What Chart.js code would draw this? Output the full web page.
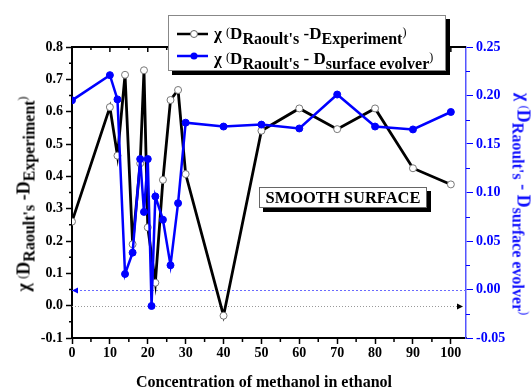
<!DOCTYPE html>
<html lang="en">
<head>
<meta charset="UTF-8">
<title>Raoult's deviation vs methanol concentration</title>
<script src="https://cdn.jsdelivr.net/npm/chart.js"></script>
<style>
    html, body { margin: 0; padding: 0; background: #fff; }
    #wrap {
        position: relative; width: 532px; height: 392px; overflow: hidden;
        font-family: 'Liberation Serif', 'Times New Roman', serif; font-weight: bold; color: #000;
    }
    #chart { position: absolute; left: 0; top: 0; }
    .title { position: absolute; white-space: nowrap; font-size: 18px; line-height: 22px; }
    .title sub { font-size: 16px; vertical-align: -5px; line-height: 0; }
    .legend sub { font-size: 16px; vertical-align: -5px; line-height: 0; }
    .par { font-size: 12px; font-weight: normal; vertical-align: 3px; }
    .legend {
        position: absolute; left: 168px; top: 15px; width: 276px; height: 54px;
        border: 1px solid #888; background: #fff; box-shadow: 4px 4px 0 #000;
    }
    .legend .row { position: absolute; left: 0; white-space: nowrap; font-size: 17px; line-height: 20px; }
    .legend svg { position: absolute; left: 8px; }
    .legend .txt { position: absolute; left: 45px; top: 0; }
    .note {
        position: absolute; left: 259px; top: 187px; width: 166px; height: 19px;
        border: 1px solid #666; background: #fff; box-shadow: 4px 4px 0 #000;
        font-size: 16.5px; line-height: 20px; text-align: center;
    }
</style>
</head>
<body>
<div id="wrap">
    <canvas id="chart" width="532" height="392"></canvas>

    <div class="title" id="yTitle" style="left:23px; top:194px; transform: translate(-50%,-50%) rotate(-90deg);">
        χ <span class="par">(</span>D<sub>Raoult's</sub> -D<sub>Experiment</sub><span class="par">)</span>
    </div>
    <div class="title" id="y2Title" style="left:524px; top:204px; color:#1010ff; transform: translate(-50%,-50%) rotate(90deg);">
        χ <span class="par">(</span>D<sub>Raoult's</sub> - D<sub>surface evolver</sub><span class="par">)</span>
    </div>
    <div class="title" id="xTitle" style="left:264px; top:382px; font-size:16px; transform: translate(-50%,-50%);">
        Concentration of methanol in ethanol
    </div>

    <div class="legend">
        <div class="row" style="top:6px; width:270px; height:20px;">
            <svg width="32" height="10" style="top:7px">
                <line x1="0" y1="5" x2="31" y2="5" stroke="#000" stroke-width="2.5"/>
                <circle cx="17" cy="5" r="3.5" fill="#fff" stroke="#666" stroke-width="1"/>
            </svg>
            <span class="txt">χ <span class="par">(</span>D<sub>Raoult's</sub> -D<sub>Experiment</sub><span class="par">)</span></span>
        </div>
        <div class="row" style="top:31px; width:270px; height:20px;">
            <svg width="32" height="10" style="top:4px">
                <line x1="0" y1="5" x2="31" y2="5" stroke="#0000ff" stroke-width="2.5"/>
                <circle cx="17" cy="5" r="3.5" fill="#0000ff"/>
            </svg>
            <span class="txt">χ <span class="par">(</span>D<sub>Raoult's</sub> - D<sub>surface evolver</sub><span class="par">)</span></span>
        </div>
    </div>

    <div class="note">SMOOTH SURFACE</div>
</div>

<script>
    // concentration of methanol (%) for each series
    const methanolExp = [0, 10, 12, 14, 16, 18, 19, 20, 22, 24, 26, 28, 30, 40, 50, 60, 70, 80, 90, 100];
    const chiExperiment = [0.26, 0.614, 0.464, 0.714, 0.19, 0.44, 0.728, 0.242, 0.071, 0.389, 0.636, 0.667, 0.407,
        -0.031, 0.541, 0.61, 0.546, 0.61, 0.425, 0.375];

    const methanolSurf = [0, 10, 12, 14, 16, 18, 19, 20, 21, 22, 24, 26, 28, 30, 40, 50, 60, 70, 80, 90, 100];
    const chiSurface = [0.195, 0.221, 0.196, 0.016, 0.038, 0.1345, 0.080, 0.1345, -0.017, 0.096, 0.072, 0.025, 0.089,
        0.172, 0.168, 0.170, 0.166, 0.201, 0.168, 0.165, 0.183];

    // tick labels
    const xTicks = [0, 10, 20, 30, 40, 50, 60, 70, 80, 90, 100];
    const xMinor = [5, 15, 25, 35, 45, 55, 65, 75, 85, 95];
    const yTicks = [-0.1, 0.0, 0.1, 0.2, 0.3, 0.4, 0.5, 0.6, 0.7, 0.8];
    const yMinor = [-0.05, 0.05, 0.15, 0.25, 0.35, 0.45, 0.55, 0.65, 0.75];
    const y2Ticks = [-0.05, 0.0, 0.05, 0.1, 0.15, 0.2, 0.25];
    const y2Minor = [-0.025, 0.025, 0.075, 0.125, 0.175, 0.225];

    const FONT = 'Liberation Serif';
    const BLUE = '#0000ff';

    // zero reference lines (Origin style), drawn under the data
    const zeroLines = {
        id: 'zeroLines',
        beforeDatasetsDraw(chart) {
            const { ctx, chartArea: a, scales } = chart;
            const y0 = Math.round(scales.y.getPixelForValue(0)) + 0.5;
            const y1 = Math.round(scales.y2.getPixelForValue(0)) + 0.5;
            ctx.save();
            ctx.lineWidth = 1;
            ctx.strokeStyle = '#999';
            ctx.setLineDash([1, 2]);
            ctx.beginPath(); ctx.moveTo(a.left, y0); ctx.lineTo(a.right - 8, y0); ctx.stroke();
            ctx.strokeStyle = '#6a6aff';
            ctx.setLineDash([2, 2]);
            ctx.beginPath(); ctx.moveTo(a.left, y1); ctx.lineTo(a.right, y1); ctx.stroke();
            ctx.setLineDash([]);
            ctx.fillStyle = '#000';
            ctx.beginPath();
            ctx.moveTo(a.right - 3, y0); ctx.lineTo(a.right - 9, y0 - 3); ctx.lineTo(a.right - 9, y0 + 3);
            ctx.fill();
            ctx.fillStyle = BLUE;
            ctx.beginPath();
            ctx.moveTo(a.left, y1); ctx.lineTo(a.left + 6, y1 - 3); ctx.lineTo(a.left + 6, y1 + 3);
            ctx.fill();
            ctx.restore();
        }
    };

    // top frame and minor ticks
    const frameTicks = {
        id: 'frameTicks',
        afterDraw(chart) {
            const { ctx, chartArea: a, scales } = chart;
            ctx.save();
            ctx.strokeStyle = '#000';
            ctx.lineWidth = 2;
            ctx.beginPath(); ctx.moveTo(a.left - 1, a.top); ctx.lineTo(a.right, a.top); ctx.stroke();
            ctx.lineWidth = 1.5;
            ctx.beginPath();
            xTicks.forEach(v => {
                const px = scales.x.getPixelForValue(v);
                ctx.moveTo(px, a.top); ctx.lineTo(px, a.top + 5);
            });
            xMinor.forEach(v => {
                const px = scales.x.getPixelForValue(v);
                ctx.moveTo(px, a.top); ctx.lineTo(px, a.top + 3);
                ctx.moveTo(px, a.bottom); ctx.lineTo(px, a.bottom + 4);
            });
            yMinor.forEach(v => {
                const py = scales.y.getPixelForValue(v);
                ctx.moveTo(a.left, py); ctx.lineTo(a.left - 3, py);
            });
            ctx.stroke();
            ctx.strokeStyle = BLUE;
            ctx.lineWidth = 1;
            ctx.beginPath();
            y2Minor.forEach(v => {
                const py = Math.round(scales.y2.getPixelForValue(v)) + 0.5;
                ctx.moveTo(a.right, py); ctx.lineTo(a.right + 4, py);
            });
            ctx.stroke();
            ctx.restore();
        }
    };

    const tickFont = { family: FONT, size: 14, weight: 'bold' };

    new Chart(document.getElementById('chart'), {
        type: 'line',
        data: {
            datasets: [
                {
                    label: 'surface evolver',
                    data: methanolSurf.map((x, i) => ({ x: x, y: chiSurface[i] })),
                    yAxisID: 'y2',
                    borderColor: BLUE,
                    borderWidth: 2.5,
                    pointRadius: 3.5,
                    pointBackgroundColor: BLUE,
                    pointBorderColor: BLUE,
                    pointBorderWidth: 1,
                    tension: 0,
                    order: 0
                },
                {
                    label: 'experiment',
                    data: methanolExp.map((x, i) => ({ x: x, y: chiExperiment[i] })),
                    yAxisID: 'y',
                    borderColor: '#000',
                    borderWidth: 2.8,
                    pointRadius: 3.5,
                    pointBackgroundColor: '#fff',
                    pointBorderColor: '#777',
                    pointBorderWidth: 1,
                    tension: 0,
                    order: 1
                }
            ]
        },
        options: {
            responsive: false,
            animation: false,
            devicePixelRatio: 1,
            layout: { padding: { top: 47, left: 0, right: 0, bottom: 0 } },
            plugins: { legend: { display: false }, tooltip: { enabled: false } },
            scales: {
                x: {
                    type: 'linear',
                    min: 0,
                    max: 104,
                    afterBuildTicks: s => { s.ticks = xTicks.map(v => ({ value: v })); },
                    afterFit: s => { s.height = 54; },
                    ticks: { font: tickFont, color: '#000', padding: 1, maxRotation: 0, autoSkip: false },
                    grid: { drawOnChartArea: false, drawTicks: true, tickLength: 6, tickColor: '#000', tickWidth: 1.5 },
                    border: { color: '#000', width: 2 }
                },
                y: {
                    position: 'left',
                    min: -0.1,
                    max: 0.8,
                    afterBuildTicks: s => { s.ticks = yTicks.map(v => ({ value: v })); },
                    afterFit: s => { s.width = 72; },
                    ticks: { font: tickFont, color: '#000', padding: 3, callback: v => v.toFixed(1) },
                    grid: { drawOnChartArea: false, drawTicks: true, tickLength: 6, tickColor: '#000', tickWidth: 1.5 },
                    border: { color: '#000', width: 2 }
                },
                y2: {
                    position: 'right',
                    min: -0.05,
                    max: 0.25,
                    afterBuildTicks: s => { s.ticks = y2Ticks.map(v => ({ value: v })); },
                    afterFit: s => { s.width = 66; },
                    ticks: { font: tickFont, color: BLUE, padding: 3, callback: v => v.toFixed(2) },
                    grid: { drawOnChartArea: false, drawTicks: true, tickLength: 7, tickColor: BLUE, tickWidth: 1 },
                    border: { color: '#5555ff', width: 1.5 }
                }
            }
        },
        plugins: [zeroLines, frameTicks]
    });
</script>
</body>
</html>
